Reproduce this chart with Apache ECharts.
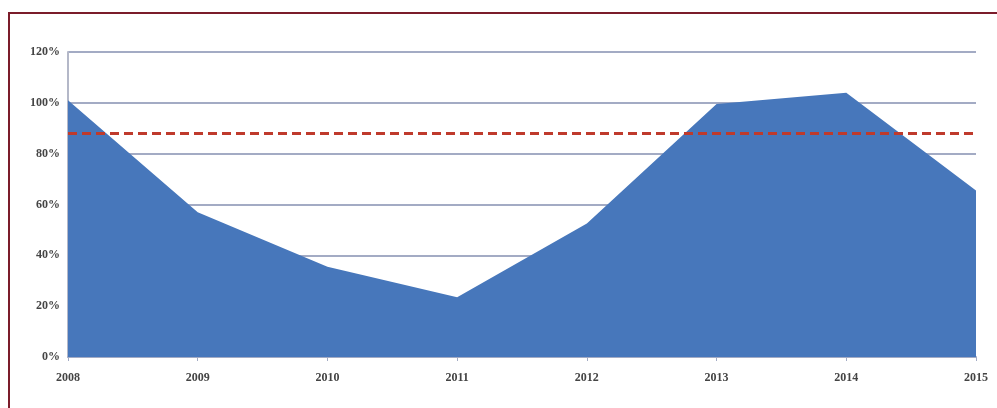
<!DOCTYPE html>
<html>
<head>
<meta charset="utf-8">
<script src="https://cdn.jsdelivr.net/npm/echarts@6/dist/echarts.min.js"></script>
<style>
html,body{margin:0;padding:0;background:#fff;}
#frame{position:absolute;left:8px;top:12px;width:1000px;height:420px;border-left:2px solid #7b1c2a;border-top:2px solid #7b1c2a;box-sizing:border-box;}
#chart{position:absolute;left:0;top:0;width:997px;height:408px;}
</style>
</head>
<body>
<div id="frame"></div>
<div id="chart"></div>
<script>
const years = ['2008','2009','2010','2011','2012','2013','2014','2015'];
const values = [101, 57, 35.5, 23.5, 52.5, 99.5, 104, 65.5];
const targetLevel = 88;
const yTicks = [0, 20, 40, 60, 80, 100, 120];

const chart = echarts.init(document.getElementById('chart'), null, {renderer:'canvas'});
const labelFont = {fontFamily:'Liberation Serif', fontWeight:'bold', fontSize:12, color:'#444'};
chart.setOption({
  animation:false,
  grid:{left:68, right:21, top:52, bottom:51},
  xAxis:{
    type:'category', data:years, boundaryGap:false,
    axisLine:{lineStyle:{color:'#a3abc4', width:2}},
    axisTick:{show:true, alignWithLabel:true, length:4, lineStyle:{color:'#a3abc4'}},
    axisLabel:Object.assign({margin:15}, labelFont),
    splitLine:{show:false}
  },
  yAxis:{
    type:'value', min:yTicks[0], max:yTicks[yTicks.length-1], interval:20,
    axisLine:{show:true, lineStyle:{color:'#b4b8c8', width:2}},
    axisTick:{show:false},
    axisLabel:Object.assign({formatter:'{value}%', margin:8}, labelFont),
    splitLine:{show:true, lineStyle:{color:'#a3abc4', width:2}}
  },
  series:[{
    type:'line', data:values, symbol:'none',
    lineStyle:{width:0, color:'#4777bb'},
    areaStyle:{color:'#4777bb', opacity:1},
    z:2,
    markLine:{
      silent:true, symbol:'none', label:{show:false},
      lineStyle:{color:'#bf3a2c', type:[9,5], width:3},
      data:[{yAxis:targetLevel}]
    }
  }]
});
</script>
</body>
</html>
